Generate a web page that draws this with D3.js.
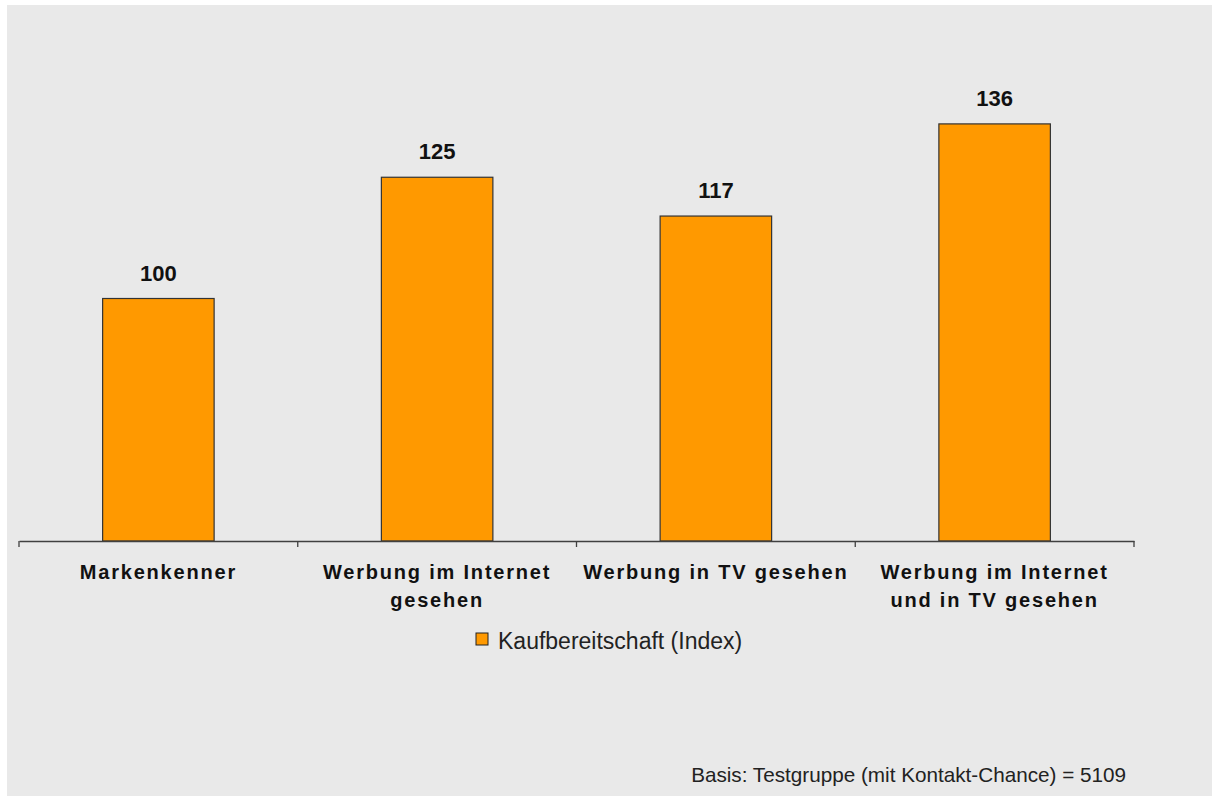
<!DOCTYPE html>
<html>
<head>
<meta charset="utf-8">
<script src="https://cdn.jsdelivr.net/npm/d3@7"></script>
<style>
  html, body { margin: 0; padding: 0; background: #fff; }
  svg { display: block; font-family: "Liberation Sans", Arial, sans-serif; }
</style>
</head>
<body>
<svg id="chart" width="1212" height="796"></svg>
<script>
// data
const categories = [
  ['Markenkenner'],
  ['Werbung im Internet', 'gesehen'],
  ['Werbung in TV gesehen'],
  ['Werbung im Internet', 'und in TV gesehen'],
];
const values = [100, 125, 117, 136];
const seriesName = 'Kaufbereitschaft (Index)';
const footnote = 'Basis: Testgruppe (mit Kontakt-Chance) = 5109';

const svg = d3.select('#chart');

// grey panel
svg.append('rect')
  .attr('x', 7).attr('y', 5)
  .attr('width', 1205).attr('height', 791)
  .attr('fill', '#e9e9e9');

const xscale = d3.scaleBand()
  .domain(d3.range(values.length))
  .range([19, 1134])
  .paddingInner(0)
  .paddingOuter(0);

// value axis starts at 50 in the original
const yscale = d3.scaleLinear()
  .domain([50, 150])
  .range([541, 56]);

const barW = xscale.bandwidth() * 0.4;

svg.selectAll('.bar')
  .data(values)
  .enter()
  .append('rect')
  .classed('bar', true)
  .attr('x', (d, i) => xscale(i) + (xscale.bandwidth() - barW) / 2)
  .attr('width', barW)
  .attr('y', d => yscale(d))
  .attr('height', d => yscale(50) - yscale(d))
  .attr('fill', '#ff9900')
  .attr('stroke', '#333')
  .attr('stroke-width', 1.2);

svg.selectAll('.val')
  .data(values)
  .enter()
  .append('text')
  .classed('val', true)
  .attr('x', (d, i) => xscale(i) + xscale.bandwidth() / 2)
  .attr('y', d => yscale(d) - 18)
  .attr('text-anchor', 'middle')
  .attr('font-size', 22)
  .attr('font-weight', 'bold')
  .attr('fill', '#111')
  .text(d => d);

// x axis: line with tick marks on band edges, no labels
const axisX = d3.axisBottom(xscale)
  .tickSize(0)
  .tickFormat('');
const gx = svg.append('g')
  .attr('transform', 'translate(0,' + yscale(50) + ')')
  .call(axisX);
gx.select('.domain').attr('stroke', '#404040').attr('stroke-width', 1.3);
gx.selectAll('.tick').remove();

const edges = xscale.domain().map(i => xscale(i)).concat([xscale.range()[1]]);
gx.selectAll('.edge')
  .data(edges)
  .enter()
  .append('line')
  .classed('edge', true)
  .attr('x1', d => d).attr('x2', d => d)
  .attr('y1', 0).attr('y2', 6)
  .attr('stroke', '#404040')
  .attr('stroke-width', 1.3);

// category labels
const lab = svg.selectAll('.cat')
  .data(categories)
  .enter()
  .append('text')
  .classed('cat', true)
  .attr('text-anchor', 'middle')
  .attr('font-size', 20)
  .attr('font-weight', 'bold')
  .attr('letter-spacing', 1.8)
  .attr('fill', '#111');
lab.selectAll('tspan')
  .data((d, i) => d.map(line => ({ line, i })))
  .enter()
  .append('tspan')
  .attr('x', d => xscale(d.i) + xscale.bandwidth() / 2)
  .attr('y', (d, j) => 579 + j * 28)
  .text(d => d.line);

// legend
const leg = svg.append('g').attr('transform', 'translate(476,633)');
leg.append('rect')
  .attr('width', 12).attr('height', 12)
  .attr('fill', '#ff9900')
  .attr('stroke', '#222')
  .attr('stroke-width', 1);
leg.append('text')
  .attr('x', 22).attr('y', 15.5)
  .attr('font-size', 23)
  .attr('fill', '#222')
  .text(seriesName);

// footnote
svg.append('text')
  .attr('x', 1126).attr('y', 782)
  .attr('text-anchor', 'end')
  .attr('font-size', 20.7)
  .attr('fill', '#222')
  .text(footnote);
</script>
</body>
</html>
